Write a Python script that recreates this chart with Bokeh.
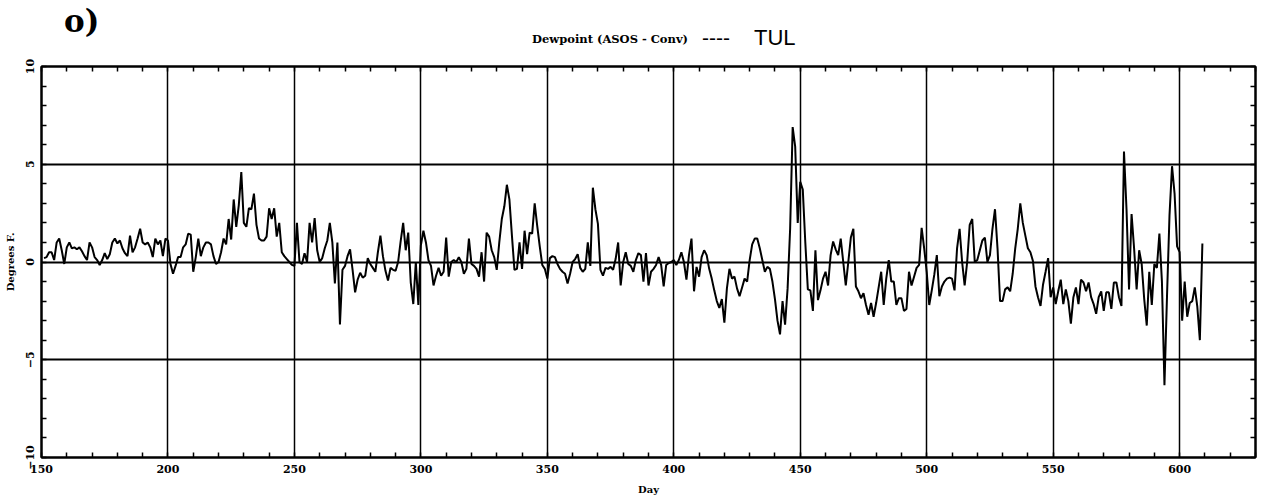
from bokeh.plotting import figure
from bokeh.models import FixedTicker, LinearAxis, Range1d, Div
from bokeh.layouts import column
from bokeh.embed import file_html
from bokeh.resources import INLINE

# ---- data ----
first_day = 151
dewpoint_diff = [
    0.2, 0.25, 0.5, 0.5, 0.1, 1.0, 1.2, 0.6, -0.1, 0.75,
    1.0, 0.7, 0.75, 0.65, 0.75, 0.55, 0.3, 0.1, 1.0, 0.75,
    0.25, 0.1, -0.15, 0.1, 0.45, 0.15, 0.4, 1.0, 1.2, 0.95,
    1.1, 0.7, 0.45, 0.3, 1.35, 0.5, 0.75, 1.2, 1.7, 1.0,
    0.9, 1.0, 0.75, 0.25, 1.2, 0.9, 1.1, 0.3, 1.2, 1.1,
    -0.1, -0.6, -0.2, 0.25, 0.25, 0.75, 0.9, 1.45, 1.4, -0.5,
    0.25, 1.2, 0.3, 0.75, 1.0, 1.0, 0.9, 0.3, -0.1, 0.0,
    0.5, 1.2, 0.9, 2.2, 1.15, 3.2, 1.8, 2.9, 4.6, 2.0,
    1.8, 2.75, 2.7, 3.5, 1.9, 1.2, 1.1, 1.1, 1.3, 2.75,
    2.2, 2.75, 1.3, 2.0, 0.5, 0.3, 0.15, 0.0, -0.15, -0.2,
    2.0, 0.0, -0.1, 0.45, 0.0, 2.0, 1.0, 2.25, 0.6, 0.0,
    0.2, 0.7, 1.1, 2.0, 1.0, -1.1, 1.0, -3.2, -0.4, -0.2,
    0.3, 0.65, -0.4, -1.55, -0.9, -0.55, -0.8, -0.7, 0.2, -0.1,
    -0.3, -0.5, 0.5, 1.35, 0.3, -0.45, -0.95, -0.3, -0.4, -0.45,
    0.0, 1.05, 2.0, 0.6, 1.5, -1.05, -2.15, 0.0, -2.2, 0.85,
    1.6, 1.0, 0.1, -0.2, -1.2, -0.7, -0.3, -0.7, -0.5, 1.25,
    -0.75, 0.0, 0.1, 0.0, 0.25, 0.0, -0.6, -0.35, 1.2, -0.1,
    -0.2, -0.35, -0.75, 0.5, -1.0, 1.5, 1.3, 0.6, 0.25, -0.4,
    1.0, 2.2, 2.85, 3.95, 3.2, 1.35, -0.4, -0.35, 1.0, -0.35,
    1.6, 0.4, 1.5, 1.45, 3.0, 1.85, 0.8, -0.15, -0.35, -0.85,
    0.2, 0.3, 0.25, -0.1, -0.35, -0.5, -0.6, -1.1, -0.6, 0.0,
    0.15, 0.4, -0.3, -0.5, -0.35, 1.0, -0.2, 3.8, 2.7, 1.95,
    -0.4, -0.7, -0.3, -0.35, -0.25, -0.4, 0.15, 1.0, -1.2, 0.0,
    0.5, -0.1, -0.2, -0.5, 0.1, 0.45, 0.35, -1.0, 0.45, -1.2,
    -0.5, -0.35, -0.15, 0.25, -0.15, -1.25, -0.15, -0.05, 0.0, 0.1,
    -0.15, 0.1, 0.5, 0.0, -0.9, 0.35, 1.2, -1.5, -0.25, -0.75,
    0.25, 0.6, 0.35, -0.35, -0.85, -1.45, -2.0, -2.35, -1.9, -3.1,
    -1.35, -0.35, -0.85, -0.75, -1.35, -1.75, -1.3, -0.85, -1.0, 0.1,
    0.9, 1.2, 1.2, 0.7, 0.1, -0.5, -0.25, -0.35, -1.0, -1.9,
    -3.0, -3.7, -2.0, -3.2, -1.35, 1.7, 6.9, 5.9, 2.0, 4.1,
    3.7, 1.0, -1.4, -1.45, -2.5, 0.6, -1.95, -1.45, -0.85, -0.5,
    -1.2, 0.35, 1.05, 0.65, 0.35, 1.2, 0.0, -1.2, 0.0, 1.25,
    1.7, -1.25, -1.5, -1.85, -1.6, -2.2, -2.7, -2.1, -2.8, -2.1,
    -1.3, -0.5, -2.2, -0.85, 0.1, -1.0, -1.0, -2.2, -1.85, -1.85,
    -2.5, -2.4, -0.5, -1.2, -0.75, -0.3, -0.15, 1.75, 0.7, -0.5,
    -2.2, -1.45, -0.65, 0.35, -1.75, -1.25, -1.0, -0.85, -0.8, -0.85,
    -1.45, 0.7, 1.7, 0.0, -1.2, 0.0, 1.9, 2.2, 0.0, 0.1,
    0.6, 1.1, 1.25, 0.0, 0.35, 1.7, 2.7, 0.7, -2.0, -2.0,
    -1.4, -1.3, -1.5, -0.6, 0.7, 1.7, 3.0, 2.0, 1.35, 0.7,
    0.5, 0.05, -1.25, -1.8, -2.25, -1.15, -0.5, 0.2, -1.8, -1.3,
    -2.15, -1.5, -0.9, -2.15, -1.4, -2.0, -3.15, -1.8, -1.3, -2.15,
    -0.9, -1.05, -1.5, -1.05, -1.8, -2.15, -2.65, -1.8, -1.5, -2.5,
    -1.55, -1.55, -2.4, -1.05, -1.05, -1.8, -2.25, 5.65, 2.7, -1.4,
    2.45, 0.7, -1.4, 0.6, -0.1, -1.9, -3.25, -0.5, -2.2, -0.1,
    -0.3, 1.45, -1.0, -6.3, -1.8, 2.4, 4.9, 3.5, 0.8, 0.5,
    -3.0, -1.0, -2.8, -2.1, -2.0, -1.3, -2.3, -4.0, 0.95,
]
days = list(range(first_day, first_day + len(dewpoint_diff)))

x_ticks = [150, 200, 250, 300, 350, 400, 450, 500, 550, 600]
x_minor = list(range(150, 631, 10))
y_ticks = [-10, -5, 0, 5, 10]
y_minor = list(range(-10, 11))
x_grid = [200, 250, 300, 350, 400, 450, 500, 550, 600]
y_grid = [-5, 0, 5]

title_text = "Dewpoint (ASOS - Conv)"
dash_text = "----"
station_text = "TUL"
panel_text = "o)"
x_label = "Day"
y_label = "Degrees F."

SERIF = "DejaVu Serif"
SANS = "Liberation Sans"

header = Div(
    text=(
        '<div style="position:relative;width:1260px;height:58px;color:black;">'
        f'<span style="position:absolute;left:64px;top:3px;font-family:\'{SERIF}\';'
        f'font-weight:bold;font-size:31px;line-height:36px;">{panel_text}</span>'
        f'<span style="position:absolute;left:532px;top:32px;font-family:\'{SERIF}\';'
        f'font-weight:bold;font-size:11.5px;line-height:14px;white-space:nowrap;">{title_text}</span>'
        f'<span style="position:absolute;left:702px;top:26px;font-family:\'{SANS}\';'
        f'font-size:21px;line-height:24px;white-space:nowrap;">{dash_text}</span>'
        f'<span style="position:absolute;left:754px;top:26px;font-family:\'{SANS}\';'
        f'font-size:22px;line-height:24px;white-space:nowrap;">{station_text}</span>'
        '</div>'
    ),
    width=1260, height=58, margin=(0, 0, 0, 0),
)

p = figure(width=1260, height=442,
           x_range=Range1d(150, 630), y_range=Range1d(-10, 10),
           output_backend="svg", toolbar_location=None,
           min_border_left=41, min_border_right=5,
           min_border_top=8, min_border_bottom=43,
           background_fill_color="white", border_fill_color="white",
           margin=(0, 0, 0, 0))

p.outline_line_color = "black"
p.outline_line_width = 2

xa = p.xaxis[0]
xa.ticker = FixedTicker(ticks=x_ticks, minor_ticks=x_minor)
xa.axis_label = x_label
ya = p.yaxis[0]
ya.ticker = FixedTicker(ticks=y_ticks, minor_ticks=y_minor)
ya.axis_label = y_label
ya.major_label_orientation = "vertical"

for ax in (xa, ya):
    ax.axis_line_color = "black"
    ax.axis_line_width = 2
    ax.major_tick_in = 0
    ax.major_tick_out = 0
    ax.minor_tick_in = 5
    ax.minor_tick_out = 0
    ax.minor_tick_line_color = "black"
    ax.minor_tick_line_width = 1.5
    ax.major_label_text_font = SERIF
    ax.major_label_text_font_style = "bold"
    ax.major_label_text_font_size = "11px"
    ax.major_label_text_color = "black"
    ax.axis_label_text_font = SERIF
    ax.axis_label_text_font_style = "bold"
    ax.axis_label_text_font_size = "10px"
    ax.axis_label_text_color = "black"

xa.major_label_standoff = 7
xa.axis_label_standoff = 8
ya.major_label_standoff = 8
ya.axis_label_standoff = 7

# top and right axes: minor ticks only, no labels
top = LinearAxis(ticker=FixedTicker(ticks=[], minor_ticks=x_minor))
right = LinearAxis(ticker=FixedTicker(ticks=[], minor_ticks=y_minor))
for ax in (top, right):
    ax.axis_line_color = "black"
    ax.axis_line_width = 2
    ax.major_tick_in = 0
    ax.major_tick_out = 0
    ax.minor_tick_in = 5
    ax.minor_tick_out = 0
    ax.minor_tick_line_color = "black"
    ax.minor_tick_line_width = 1.5
    ax.major_label_standoff = 0
p.add_layout(top, "above")
p.add_layout(right, "right")

p.xgrid.ticker = FixedTicker(ticks=x_grid)
p.ygrid.ticker = FixedTicker(ticks=y_grid)
p.xgrid.grid_line_color = "black"
p.xgrid.grid_line_width = 1.5
p.ygrid.grid_line_color = "black"
p.ygrid.grid_line_width = 2

p.line(days, dewpoint_diff, line_color="black", line_width=2)

layout = column(header, p, spacing=0, margin=(0, 0, 0, 0))
open("out.html", "w").write(file_html(layout, INLINE))
